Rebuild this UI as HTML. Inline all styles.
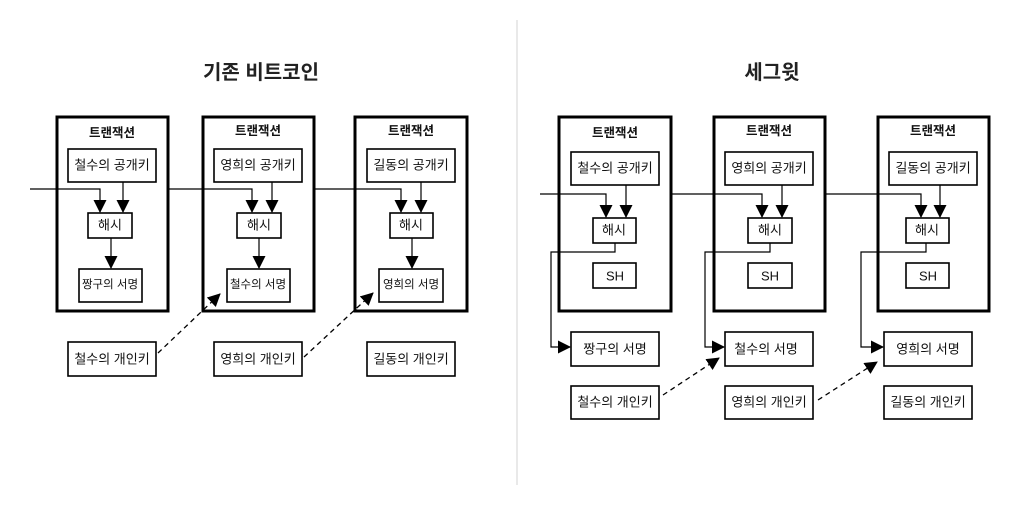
<!DOCTYPE html>
<html><head><meta charset="utf-8"><style>
html,body{margin:0;padding:0;background:#fff;}
svg{display:block;}
text{font-family:"Liberation Sans","Noto Sans CJK KR",sans-serif;fill:#111;text-anchor:middle;dominant-baseline:central;}
.t{font-size:12.5px;font-weight:bold;}
.l{font-size:13px;}
.s{font-size:11.5px;}
.b{fill:#fff;stroke:#000;stroke-width:1.6;}
.bb{fill:none;stroke:#000;stroke-width:3;}
.ln{fill:none;stroke:#000;stroke-width:1.2;}
.d{fill:none;stroke:#000;stroke-width:1.3;stroke-dasharray:5,4;}
</style></head><body>
<svg width="1036" height="505" viewBox="0 0 1036 505" xmlns="http://www.w3.org/2000/svg">
<defs>
<marker id="a" markerWidth="10" markerHeight="10" refX="9" refY="5" orient="auto" markerUnits="userSpaceOnUse"><path d="M0,0 L10,5 L0,10 z" fill="#000"/></marker>
<marker id="a2" markerWidth="13" markerHeight="13" refX="12" refY="6.5" orient="auto" markerUnits="userSpaceOnUse"><path d="M0,0 L13,6.5 L0,13 z" fill="#000"/></marker>
</defs>
<rect x="0" y="0" width="1036" height="505" fill="#fff"/>
<line x1="517" y1="20" x2="517" y2="485" stroke="#e2e2e2" stroke-width="1.5"/>
<text x="261" y="73" style="font-size:20px;font-weight:bold;fill:#222">기존 비트코인</text>
<text x="772" y="73" style="font-size:20px;font-weight:bold;fill:#222">세그윗</text>

<!-- LEFT -->
<g>
<rect class="bb" x="57" y="117" width="111" height="194"/>
<rect class="bb" x="203" y="117" width="111" height="194"/>
<rect class="bb" x="355" y="117" width="112" height="194"/>
<text class="t" x="112" y="133">트랜잭션</text>
<text class="t" x="258" y="131">트랜잭션</text>
<text class="t" x="411" y="131">트랜잭션</text>
<rect class="b" x="68" y="149" width="88" height="33"/><text class="l" x="112" y="165">철수의 공개키</text>
<rect class="b" x="214" y="149" width="88" height="33"/><text class="l" x="258" y="165">영희의 공개키</text>
<rect class="b" x="367" y="149" width="88" height="33"/><text class="l" x="411" y="165">길동의 공개키</text>
<polyline class="ln" points="30,189 100,189 100,212" marker-end="url(#a2)"/>
<line class="ln" x1="123" y1="182" x2="123" y2="212" marker-end="url(#a2)"/>
<polyline class="ln" points="168,189 252,189 252,212" marker-end="url(#a2)"/>
<line class="ln" x1="272" y1="182" x2="272" y2="212" marker-end="url(#a2)"/>
<polyline class="ln" points="314,189 401,189 401,212" marker-end="url(#a2)"/>
<line class="ln" x1="421" y1="182" x2="421" y2="212" marker-end="url(#a2)"/>
<rect class="b" x="88" y="213" width="44" height="25"/><text class="l" x="110" y="225">해시</text>
<rect class="b" x="237" y="213" width="44" height="25"/><text class="l" x="259" y="225">해시</text>
<rect class="b" x="390" y="213" width="43" height="25"/><text class="l" x="411" y="225">해시</text>
<line class="ln" x1="111" y1="238" x2="111" y2="268" marker-end="url(#a2)"/>
<line class="ln" x1="259" y1="238" x2="259" y2="268" marker-end="url(#a2)"/>
<line class="ln" x1="412" y1="238" x2="412" y2="268" marker-end="url(#a2)"/>
<rect class="b" x="79" y="269" width="63" height="33"/><text class="s" x="110" y="285">짱구의 서명</text>
<rect class="b" x="227" y="269" width="63" height="33"/><text class="s" x="258" y="285">철수의 서명</text>
<rect class="b" x="379" y="269" width="64" height="33"/><text class="s" x="411" y="285">영희의 서명</text>
<rect class="b" x="68" y="342" width="88" height="34"/><text class="l" x="112" y="359">철수의 개인키</text>
<rect class="b" x="214" y="342" width="88" height="34"/><text class="l" x="258" y="359">영희의 개인키</text>
<rect class="b" x="367" y="342" width="88" height="34"/><text class="l" x="411" y="359">길동의 개인키</text>
<line class="d" x1="158" y1="353" x2="220" y2="294" marker-end="url(#a2)"/>
<line class="d" x1="304" y1="357" x2="373" y2="293" marker-end="url(#a2)"/>
</g>

<!-- RIGHT -->
<g>
<rect class="bb" x="559" y="117" width="112" height="194"/>
<rect class="bb" x="714" y="117" width="111" height="194"/>
<rect class="bb" x="878" y="117" width="111" height="194"/>
<text class="t" x="615" y="133">트랜잭션</text>
<text class="t" x="769" y="131">트랜잭션</text>
<text class="t" x="933" y="131">트랜잭션</text>
<rect class="b" x="571" y="152" width="88" height="33"/><text class="l" x="615" y="168">철수의 공개키</text>
<rect class="b" x="725" y="152" width="88" height="33"/><text class="l" x="769" y="168">영희의 공개키</text>
<rect class="b" x="889" y="152" width="88" height="33"/><text class="l" x="933" y="168">길동의 공개키</text>
<polyline class="ln" points="540,194 606,194 606,217" marker-end="url(#a2)"/>
<line class="ln" x1="626" y1="185" x2="626" y2="217" marker-end="url(#a2)"/>
<polyline class="ln" points="671,194 762,194 762,217" marker-end="url(#a2)"/>
<line class="ln" x1="782" y1="185" x2="782" y2="217" marker-end="url(#a2)"/>
<polyline class="ln" points="825,194 921,194 921,217" marker-end="url(#a2)"/>
<line class="ln" x1="940" y1="185" x2="940" y2="217" marker-end="url(#a2)"/>
<rect class="b" x="593" y="218" width="43" height="25"/><text class="l" x="614" y="230">해시</text>
<rect class="b" x="748" y="218" width="44" height="25"/><text class="l" x="770" y="230">해시</text>
<rect class="b" x="906" y="218" width="43" height="25"/><text class="l" x="927" y="230">해시</text>
<rect class="b" x="593" y="263" width="43" height="25"/><text class="l" x="615" y="276">SH</text>
<rect class="b" x="748" y="263" width="44" height="25"/><text class="l" x="770" y="276">SH</text>
<rect class="b" x="906" y="263" width="43" height="25"/><text class="l" x="928" y="276">SH</text>
<polyline class="ln" points="615,243 615,252 551,252 551,347 570,347" marker-end="url(#a2)"/>
<polyline class="ln" points="770,243 770,252 705,252 705,347 724,347" marker-end="url(#a2)"/>
<polyline class="ln" points="926,243 926,252 861,252 861,347 883,347" marker-end="url(#a2)"/>
<rect class="b" x="571" y="332" width="88" height="34"/><text class="l" x="615" y="349">짱구의 서명</text>
<rect class="b" x="725" y="332" width="88" height="34"/><text class="l" x="766" y="349">철수의 서명</text>
<rect class="b" x="884" y="332" width="88" height="34"/><text class="l" x="928" y="349">영희의 서명</text>
<rect class="b" x="571" y="386" width="88" height="33"/><text class="l" x="615" y="402">철수의 개인키</text>
<rect class="b" x="725" y="386" width="88" height="33"/><text class="l" x="769" y="402">영희의 개인키</text>
<rect class="b" x="884" y="386" width="88" height="33"/><text class="l" x="928" y="402">길동의 개인키</text>
<line class="d" x1="663" y1="395" x2="719" y2="358" marker-end="url(#a2)"/>
<line class="d" x1="818" y1="400" x2="877" y2="362" marker-end="url(#a2)"/>
</g>
</svg>
</body></html>
